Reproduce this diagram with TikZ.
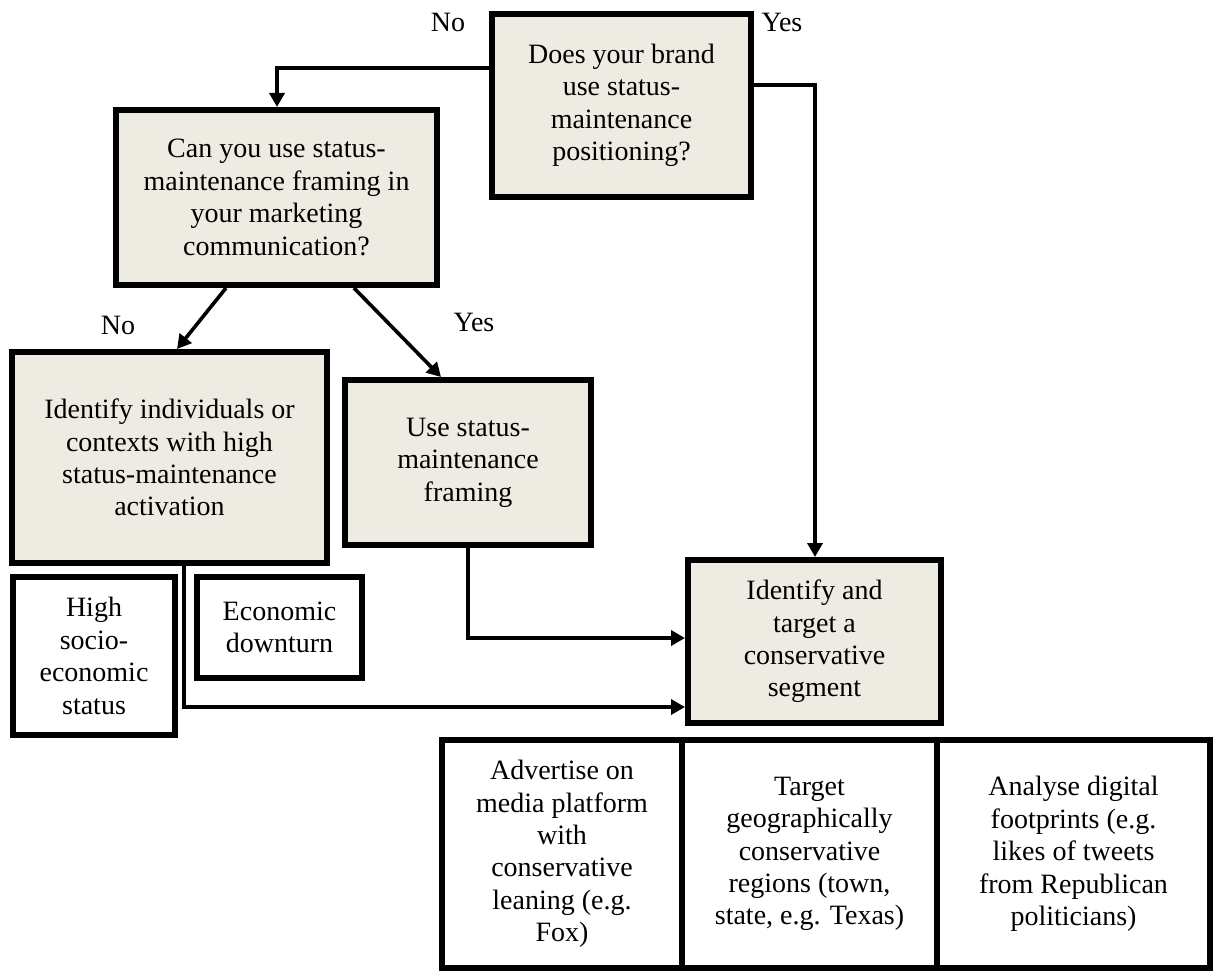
\documentclass[tikz,border=0pt]{standalone}
\usepackage{fontspec}
\setmainfont{Liberation Serif}
\usepackage{tikz}
\usetikzlibrary{arrows.meta,positioning}
\definecolor{boxfill}{RGB}{238,236,226}

\begin{document}
\begin{tikzpicture}[x=0.5pt, y=-0.5pt,
    every node/.style={align=center, font=\fontsize{14}{16.2}\selectfont},
    qbox/.style={draw, line width=3pt, fill=boxfill, inner sep=0pt},
    wbox/.style={draw, line width=3pt, fill=white, inner sep=0pt},
    arr/.style={line width=1.8pt, -{Triangle[length=7pt,width=7.5pt]}},
    lbl/.style={inner sep=0pt}]
    \useasboundingbox (0,0) rectangle (1214,973);
    \node[qbox, minimum width=129.5pt, minimum height=91.5pt] (brand) at (621.5,105.5) {Does your brand\\use status-\\maintenance\\positioning?};
    \node[qbox, minimum width=160.5pt, minimum height=87.5pt] (framing) at (276.5,197.5) {Can you use status-\\maintenance framing in\\your marketing\\communication?};
    \node[qbox, minimum width=157.5pt, minimum height=105.5pt] (identify) at (169.5,457.5) {Identify individuals or\\contexts with high\\status-maintenance\\activation};
    \node[qbox, minimum width=123pt, minimum height=82.5pt] (use) at (468,462.5) {Use status-\\maintenance\\framing};
    \node[wbox, minimum width=81pt, minimum height=79pt] (socio) at (94,656) {High\\socio-\\economic\\status};
    \node[wbox, minimum width=82.5pt, minimum height=50.5pt] (downturn) at (279.5,627.5) {Economic\\downturn};
    \node[qbox, minimum width=126.5pt, minimum height=81.5pt] (target) at (814.5,641.5) {Identify and\\target a\\conservative\\segment};
    \node[wbox, minimum width=120pt, minimum height=114pt] (media) at (562,854) {Advertise on\\media platform\\with\\conservative\\leaning (e.g.\\Fox)};
    \node[wbox, minimum width=127.5pt, minimum height=114pt] (geo) at (809.5,854) {Target\\geographically\\conservative\\regions (town,\\state, e.g. Texas)};
    \node[wbox, minimum width=136.5pt, minimum height=114pt] (digital) at (1073.5,854) {Analyse digital\\footprints (e.g.\\likes of tweets\\from Republican\\politicians)};
    \node[lbl] (no1) at (448,22) {No};
    \node[lbl] (yes1) at (782,22) {Yes};
    \node[lbl] (no2) at (118,325) {No};
    \node[lbl] (yes2) at (474,322) {Yes};
    \coordinate (nojoin) at (277,68);
    \coordinate (yesjoin) at (815,85);
    \draw[arr] (brand.west |- nojoin) -| (nojoin |- framing.north);
    \draw[arr] (brand.east |- yesjoin) -| (yesjoin |- target.north);
    \draw[arr] (framing.south -| 226,0) -- (identify.north -| 177,0);
    \draw[arr] (framing.south -| 354,0) -- (use.north -| 441,0);
    \draw[arr] (identify.south -| 184,0) |- (target.west |- 0,707);
    \draw[arr] (use.south) |- (target.west |- 0,638);
\end{tikzpicture}
\end{document}
